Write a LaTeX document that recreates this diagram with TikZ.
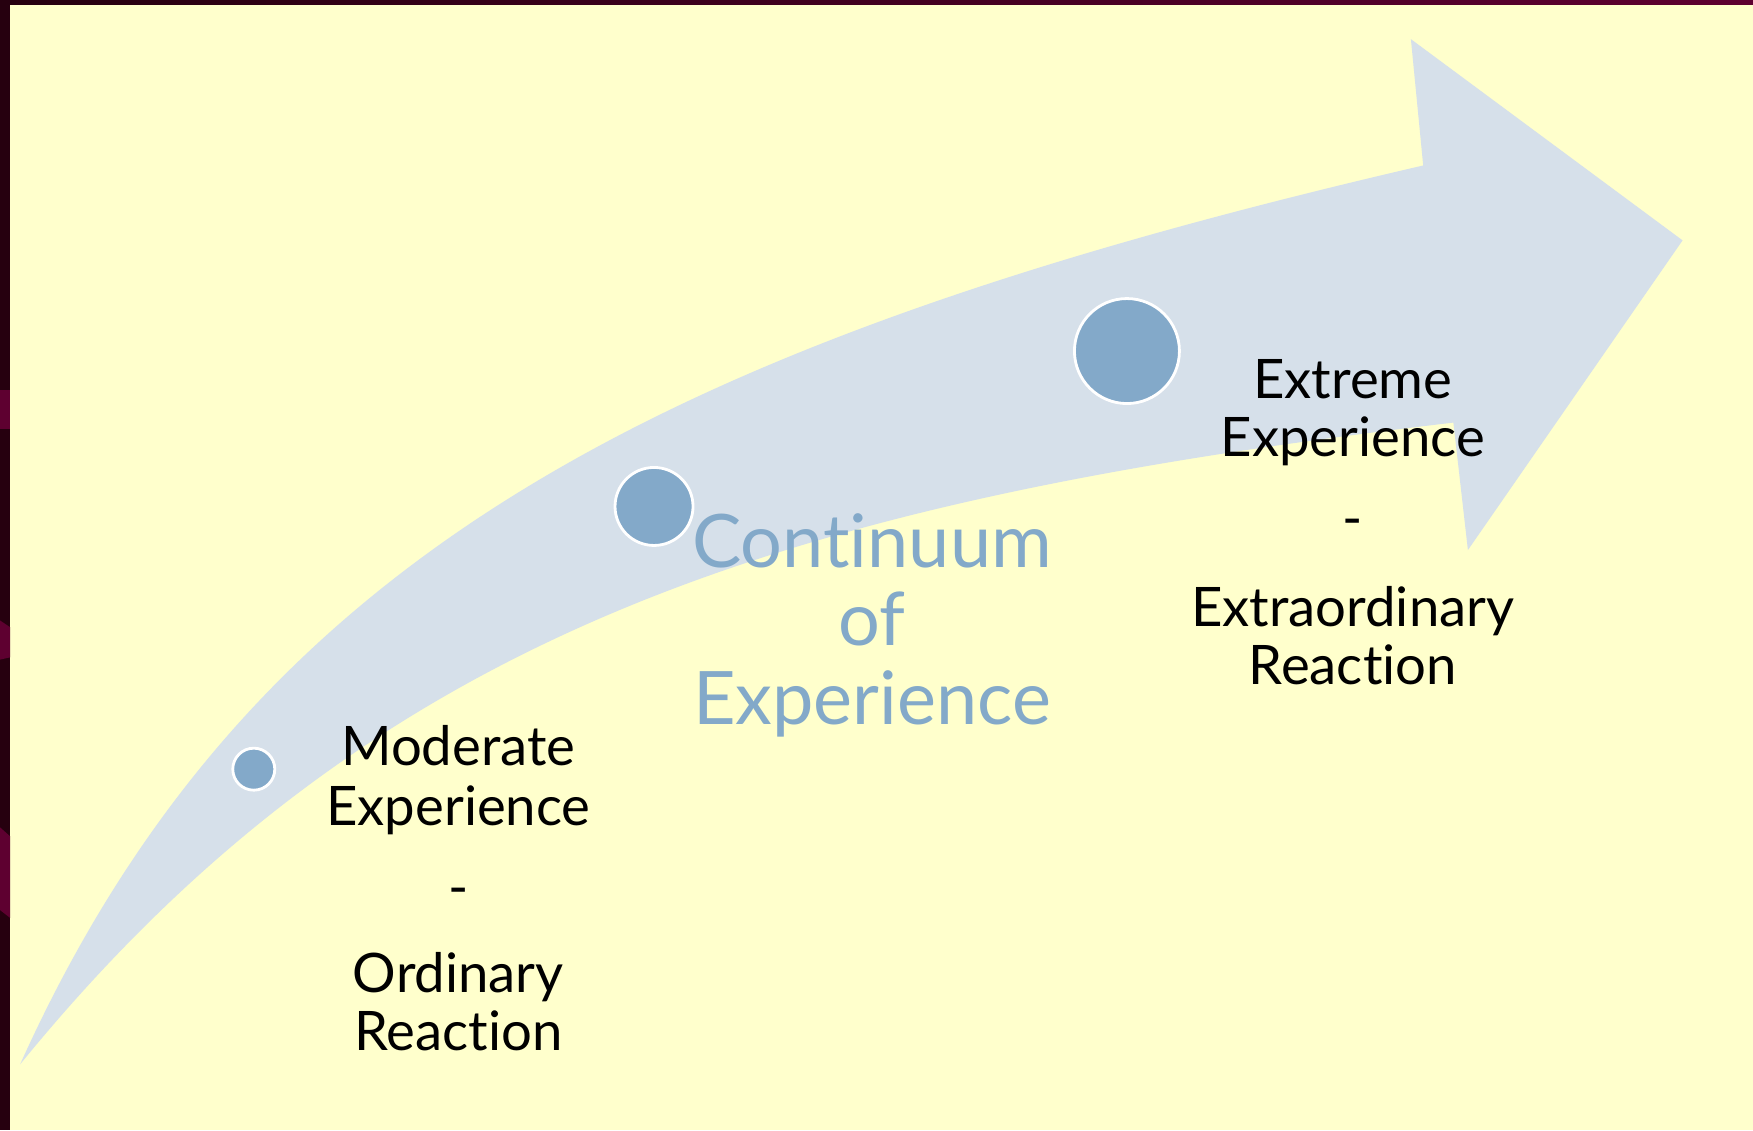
\documentclass[tikz,border=0pt]{standalone}
\usepackage{fontspec}
\setmainfont{Lato}[Ligatures=NoCommon]
\definecolor{paper}{HTML}{FFFFCC}
\definecolor{bandblue}{HTML}{D6E0EA}
\definecolor{dotblue}{HTML}{83A9C9}
\definecolor{edgedark}{HTML}{26000F}
\definecolor{edgewine}{HTML}{5E0030}
\begin{document}
\begin{tikzpicture}[x=0.1118mm, y=-0.1118mm,
  dot/.style={circle, fill=dotblue, draw=white, line width=0.8pt, inner sep=0pt},
  pointtext/.style={font=\fontsize{15.5}{16}\selectfont, anchor=base},
  bandtext/.style={font=\fontsize{21}{22}\selectfont, text=dotblue, anchor=base}]
  \useasboundingbox (0,0) rectangle (1568,1011);

  % slide background
  \fill[paper] (0,0) rectangle (1568,1011);
  \fill[edgedark] (0,0) rectangle (9,1011);
  \shade[left color=edgedark, right color=edgewine] (0,0) rectangle (1568,3.6);
  \fill[edgewine] (0,349) rectangle (9,384);
  \fill[edgewine] (0,555) -- (9,561) -- (9,588) -- (0,590) -- cycle;
  \fill[edgewine] (0,740) -- (9,748) -- (9,821) -- (0,814) -- cycle;

  % the curved arrow
  \fill[bandblue] (18,952) .. controls (223,497) and (591,306) .. (1273,148)
    -- (1262,35) -- (1505,215) -- (1313,492) -- (1300,378)
    .. controls (704,448) and (334,564) .. (18,952) -- cycle;

  % points on the continuum
  \node[dot, minimum size=4.2mm] (c1) at (227,688) {};
  \node[dot, minimum size=7.8mm] (c2) at (585,453) {};
  \node[dot, minimum size=10.5mm] (c3) at (1008,314) {};

  \foreach \t/\y [count=\i] in {Moderate/685, Experience/738, -/811, Ordinary/888, Reaction/940}
    \node[pointtext] (low\i) at (410,\y) {\t};
  \foreach \t/\y [count=\i] in {Extreme/356, Experience/408, -/481, Extraordinary/560, Reaction/612}
    \node[pointtext] (high\i) at (1210,\y) {\t};
  \foreach \t/\y [count=\i] in {Continuum/508, of/577, Experience/648}
    \node[bandtext] (mid\i) at (780,\y) {\t};
\end{tikzpicture}
\end{document}
